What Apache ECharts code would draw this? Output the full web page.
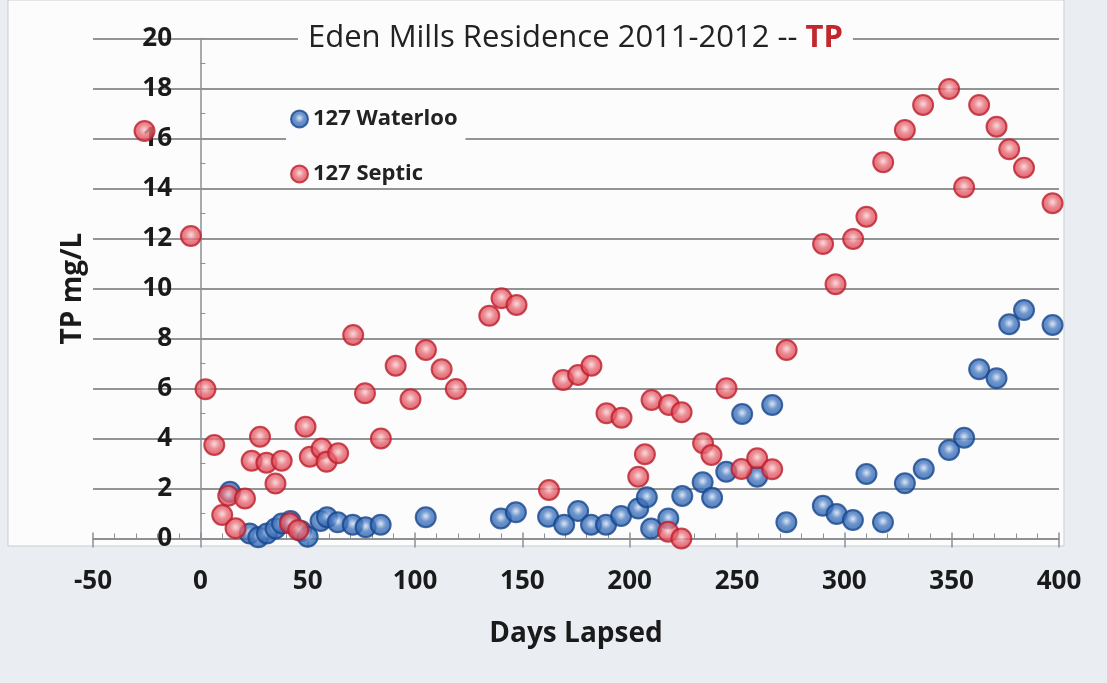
<!DOCTYPE html>
<html>
<head>
<meta charset="utf-8">
<script src="https://cdn.jsdelivr.net/npm/echarts@6/dist/echarts.min.js"></script>
<style>
  html, body { margin: 0; padding: 0; background: #eaeef2; }
  #chart { width: 1107px; height: 683px; }
</style>
</head>
<body>
<div id="chart"></div>
<script>
// 127 Waterloo
var waterlooDays = [13.8, 23, 27, 31, 35, 38, 42, 47, 50, 56, 59, 64, 71, 77, 84, 105,
  140, 147, 162, 169.5, 176, 182, 189, 196, 204, 208, 210, 218, 224.5, 234, 238.4, 245,
  252.4, 259.4, 266.4, 273, 290, 296.4, 304, 310.3, 318, 328.2, 337, 348.8, 355.8,
  362.8, 370.9, 376.8, 383.7, 397]
var waterlooTP = [1.87, 0.2, 0.05, 0.2, 0.4, 0.6, 0.7, 0.3, 0.07, 0.7, 0.85, 0.65, 0.55, 0.45, 0.55, 0.85,
  0.8, 1.05, 0.87, 0.55, 1.1, 0.55, 0.55, 0.9, 1.2, 1.65, 0.4, 0.8, 1.7, 2.25, 1.63, 2.67,
  4.98, 2.47, 5.34, 0.65, 1.31, 0.98, 0.74, 2.58, 0.65, 2.21, 2.78, 3.54, 4.03,
  6.77, 6.41, 8.57, 9.14, 8.54]

// 127 Septic
var septicDays = [-26, -4.4, 2.4, 6.5, 10.2, 13, 16.4, 20.8, 23.9, 27.8, 30.8, 35, 37.9, 41.7, 45.6,
  49, 51, 56.5, 58.8, 64.2, 71.2, 76.7, 84.1, 91, 97.9, 105.1, 112.4, 119, 134.6, 140.3, 147.3,
  162.4, 169, 176, 182.2, 189.2, 196.2, 204, 207.1, 210.2, 217.9, 218.3, 224.1, 224.2, 234.2,
  238.1, 245.1, 252.1, 259.4, 266.4, 273.1, 290.1, 295.9, 304.1, 310.3, 318.1, 328.2, 336.7,
  348.8, 355.8, 362.8, 370.9, 376.8, 383.7, 397]
var septicTP = [16.3, 12.1, 5.97, 3.74, 0.94, 1.71, 0.41, 1.6, 3.11, 4.07, 3.03, 2.2, 3.11, 0.61, 0.34,
  4.47, 3.27, 3.6, 3.07, 3.41, 8.14, 5.81, 4.0, 6.91, 5.57, 7.54, 6.77, 5.98, 8.91, 9.61, 9.34,
  1.94, 6.34, 6.54, 6.91, 5.01, 4.83, 2.47, 3.37, 5.54, 0.27, 5.34, 0.0, 5.05, 3.81,
  3.34, 6.01, 2.78, 3.21, 2.77, 7.54, 11.78, 10.17, 11.98, 12.87, 15.05, 16.34, 17.34,
  17.98, 14.05, 17.34, 16.47, 15.57, 14.83, 13.41]

var xTicks = { min: -50, max: 400, interval: 50 }
var yTicks = { min: 0, max: 20, interval: 2 }

function pairs (xs, ys) {
  return xs.map(function (x, i) { return [x, ys[i]] })
}

var FONT = '"Open Sans", "Noto Sans", sans-serif'

var blueStyle = {
  color: {
    type: 'radial', x: 0.5, y: 0.45, r: 0.6,
    colorStops: [
      { offset: 0, color: '#d3e0f2' },
      { offset: 0.4, color: '#4a7cc2' },
      { offset: 1, color: '#1d54a0' }
    ]
  },
  borderColor: '#17468d',
  borderWidth: 2
}
var redStyle = {
  color: {
    type: 'radial', x: 0.5, y: 0.45, r: 0.6,
    colorStops: [
      { offset: 0, color: '#f8d2d4' },
      { offset: 0.4, color: '#e8707a' },
      { offset: 1, color: '#d52b37' }
    ]
  },
  borderColor: '#bb1f2d',
  borderWidth: 2
}

var chart = echarts.init(document.getElementById('chart'))
chart.setOption({
  backgroundColor: '#eaeef2',
  animation: false,
  textStyle: { fontFamily: FONT },
  graphic: [{
    type: 'rect', z: -10, silent: true,
    shape: { x: 8, y: 0, width: 1056, height: 546 },
    style: { fill: '#fcfcfc', stroke: '#c9cdd2', lineWidth: 1 }
  }],
  title: {
    text: 'Eden Mills Residence 2011-2012 -- {tp|TP}',
    left: 298,
    top: 23,
    padding: [0, 10, 0, 10],
    backgroundColor: '#fcfcfc',
    textStyle: {
      fontFamily: FONT,
      fontSize: 31,
      fontWeight: 'normal',
      color: '#222',
      rich: {
        tp: { fontFamily: FONT, fontSize: 31, fontWeight: 'bold', color: '#c1272d' }
      }
    }
  },
  legend: {
    orient: 'vertical',
    left: 286,
    top: 106,
    itemGap: 33,
    itemWidth: 17,
    itemHeight: 17,
    padding: [2, 8, 2, 4],
    backgroundColor: '#fcfcfc',
    textStyle: { fontFamily: FONT, fontSize: 22, fontWeight: 'bold', color: '#222' },
    data: ['127 Waterloo', '127 Septic']
  },
  grid: { left: 93, right: 48, top: 38.5, bottom: 144.5, outerBoundsMode: 'none' },
  xAxis: [{
    type: 'value',
    min: xTicks.min, max: xTicks.max, interval: xTicks.interval,
    name: 'Days Lapsed',
    nameLocation: 'middle',
    nameGap: 82,
    nameTextStyle: { fontFamily: FONT, fontSize: 28, fontWeight: 'bold', color: '#1a1a1a' },
    axisLine: { lineStyle: { color: '#8c8f93', width: 1.5 } },
    axisTick: { show: true, inside: true, length: 6, lineStyle: { color: '#8c8f93', width: 1.5 } },
    minorTick: { show: true, splitNumber: 5, length: 5, lineStyle: { color: '#8c8f93' } },
    axisLabel: { margin: 30, fontFamily: FONT, fontSize: 26, fontWeight: 'bold', color: '#1a1a1a' },
    splitLine: { show: false }
  }, {
    type: 'value',
    position: 'bottom',
    min: xTicks.min, max: xTicks.max, interval: xTicks.interval,
    axisLine: { show: false },
    axisTick: { show: true, inside: false, length: 9, lineStyle: { color: '#8c8f93', width: 1.5 } },
    axisLabel: { show: false },
    splitLine: { show: false }
  }],
  yAxis: {
    type: 'value',
    min: yTicks.min, max: yTicks.max, interval: yTicks.interval,
    name: 'TP mg/L',
    nameLocation: 'middle',
    nameGap: 6,
    nameTextStyle: { fontFamily: FONT, fontSize: 28, fontWeight: 'bold', color: '#1a1a1a' },
    axisLine: { onZero: true, lineStyle: { color: '#8c8f93', width: 1.5 } },
    axisTick: { show: true, inside: true, length: 5, lineStyle: { color: '#8c8f93' } },
    minorTick: { show: true, splitNumber: 2, length: 5, lineStyle: { color: '#8c8f93' } },
    axisLabel: { margin: -79, fontFamily: FONT, fontSize: 26, fontWeight: 'bold', color: '#1a1a1a' },
    splitLine: { show: true, lineStyle: { color: '#6f7275', width: 1.5 } }
  },
  series: [
    {
      name: '127 Waterloo',
      type: 'scatter',
      symbolSize: 20,
      itemStyle: blueStyle,
      data: pairs(waterlooDays, waterlooTP)
    },
    {
      name: '127 Septic',
      type: 'scatter',
      symbolSize: 20,
      itemStyle: redStyle,
      data: pairs(septicDays, septicTP)
    }
  ]
})
</script>
</body>
</html>
